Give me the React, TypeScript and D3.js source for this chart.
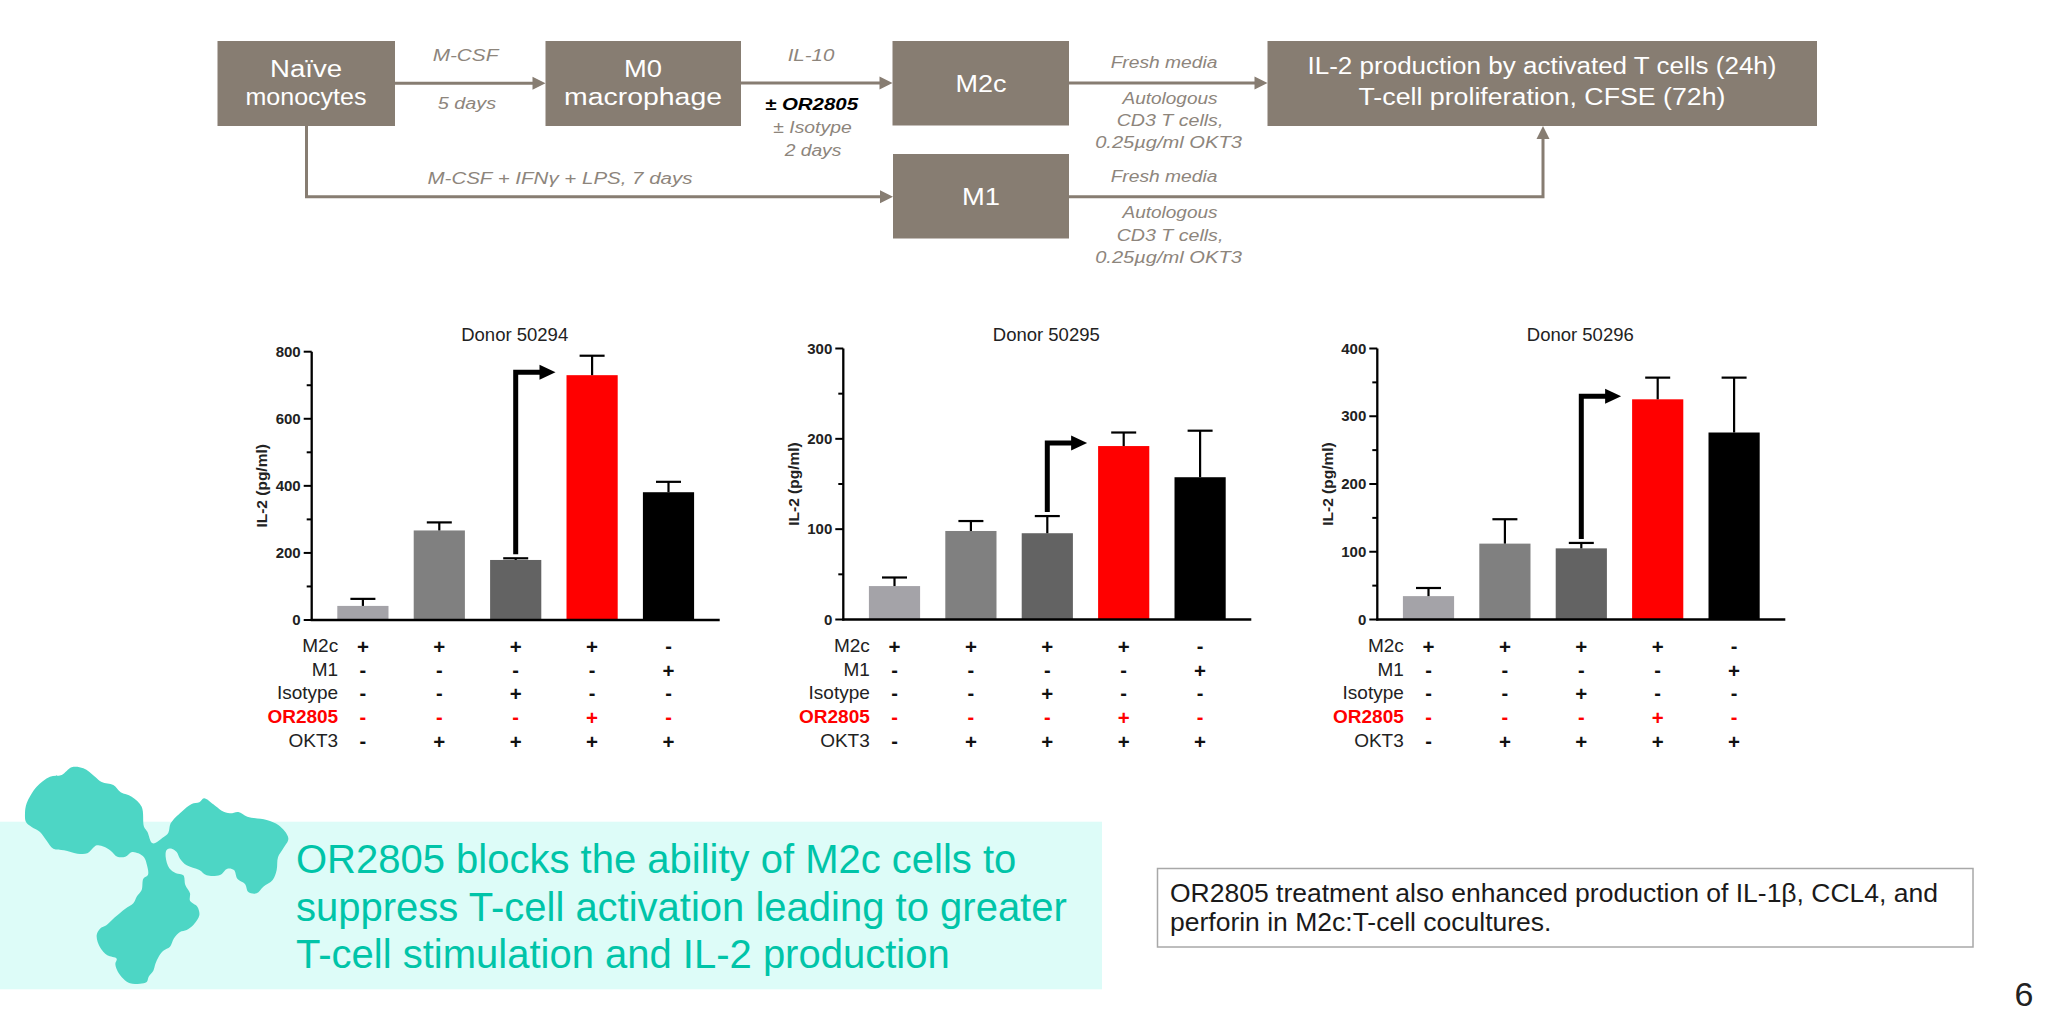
import React from 'react';
import * as d3 from 'd3';

// ---------------- DATA ----------------
const conditions = ['M2c', 'M2c + OKT3', 'M2c + Isotype + OKT3', 'M2c + OR2805 + OKT3', 'M1 + OKT3'];
const barColors = ['#a4a3a8', '#808080', '#636363', '#ff0000', '#000000'];

const donorNames = ['Donor 50294', 'Donor 50295', 'Donor 50296'];
const donor50294Mean = [42, 267, 179, 730, 381];
const donor50294Sem = [21, 24, 5, 58, 31];
const donor50295Mean = [37, 98, 95.5, 192, 157.5];
const donor50295Sem = [9.5, 11, 19, 15, 51.5];
const donor50296Mean = [34.5, 112, 105, 325, 276];
const donor50296Sem = [12, 36, 8, 32, 81];
const yMaxes = [800, 300, 400];
const yMajorSteps = [200, 100, 100];
const yAxisTitle = 'IL-2 (pg/ml)';

const rowLabels = ['M2c', 'M1', 'Isotype', 'OR2805', 'OKT3'];
const rowSigns = [
  ['+', '+', '+', '+', '-'],
  ['-', '-', '-', '-', '+'],
  ['-', '-', '+', '-', '-'],
  ['-', '-', '-', '+', '-'],
  ['-', '+', '+', '+', '+'],
];

const headline = [
  'OR2805 blocks the ability of M2c cells to',
  'suppress T-cell activation leading to greater',
  'T-cell stimulation and IL-2 production',
];
const noteLines = [
  'OR2805 treatment also enhanced production of IL-1β, CCL4, and',
  'perforin in M2c:T-cell cocultures.',
];
const pageNumber = '6';

// ---------------- STYLE ----------------
const FF = "'Liberation Sans', Arial, Helvetica, sans-serif";
const BOX = '#877d72';
const LABEL = '#8d857c';
const RED = '#ff0000';

type ChartProps = {
  axisX: number; y0: number; yTop: number; title: string;
  means: number[]; sems: number[]; yMax: number; step: number;
};

function BarChart({ axisX, y0, yTop, title, means, sems, yMax, step }: ChartProps) {
  const x = d3.scaleBand<string>().domain(conditions)
    .range([axisX + 13, axisX + 13 + 382]).paddingInner(0.33).paddingOuter(0.165);
  const y = d3.scaleLinear().domain([0, yMax]).range([y0, yTop]);
  const majors = d3.range(0, yMax + 1, step);
  const minors = d3.range(step / 2, yMax, step);
  const bw = x.bandwidth();
  const cx = (i: number) => (x(conditions[i]) as number) + bw / 2;

  // arrow from isotype bar to OR2805 bar
  const ax = cx(2);
  const ayStart = y(means[2] + sems[2]) - 4;
  const ayEnd = y(means[3]) - 3;
  const tipX = (x(conditions[3]) as number) - 11;
  const headLen = 16;

  const rowBase = (r: number) => 652 + r * 23.7;

  return (
    <g>
      <text x={axisX + 203} y={340.5} textAnchor="middle" fontFamily={FF} fontSize={18.5} fill="#222">{title}</text>
      {means.map((m, i) => (
        <rect key={'b' + i} x={x(conditions[i])} y={y(m)} width={bw} height={y0 - y(m)} fill={barColors[i]} />
      ))}
      {means.map((m, i) => (
        <g key={'e' + i} stroke="#000" strokeWidth={2.2}>
          <line x1={cx(i)} x2={cx(i)} y1={y(m)} y2={y(m + sems[i])} />
          <line x1={cx(i) - 12.5} x2={cx(i) + 12.5} y1={y(m + sems[i])} y2={y(m + sems[i])} />
        </g>
      ))}
      <line x1={axisX} x2={axisX} y1={y0 + 1} y2={yTop} stroke="#000" strokeWidth={2.3} />
      <line x1={axisX - 1} x2={axisX + 408} y1={y0} y2={y0} stroke="#000" strokeWidth={2.3} />
      {majors.map((t) => (
        <g key={'t' + t}>
          <line x1={axisX - 8} x2={axisX} y1={y(t)} y2={y(t)} stroke="#000" strokeWidth={2} />
          <text x={axisX - 11} y={y(t) + 5} textAnchor="end" fontFamily={FF} fontWeight="bold" fontSize={15} fill="#222">{t}</text>
        </g>
      ))}
      {minors.map((t) => (
        <line key={'m' + t} x1={axisX - 5} x2={axisX} y1={y(t)} y2={y(t)} stroke="#000" strokeWidth={2} />
      ))}
      <text transform={`translate(${axisX - 50},${(y0 + yTop) / 2}) rotate(-90)`} textAnchor="middle"
        dominantBaseline="central" fontFamily={FF} fontWeight="bold" fontSize={15.5} fill="#222">{yAxisTitle}</text>
      <path d={`M${ax},${ayStart}V${ayEnd}H${tipX - headLen + 1}`} fill="none" stroke="#000" strokeWidth={5} strokeLinejoin="miter" />
      <path d={`M${tipX},${ayEnd}L${tipX - headLen},${ayEnd - 7.5}L${tipX - headLen},${ayEnd + 7.5}Z`} fill="#000" />
      {rowLabels.map((lab, r) => (
        <g key={'r' + r}>
          <text x={axisX + 26.5} y={rowBase(r)} textAnchor="end" fontFamily={FF} fontSize={19}
            fontWeight={lab === 'OR2805' ? 'bold' : 'normal'} fill={lab === 'OR2805' ? RED : '#222'}>{lab}</text>
          {rowSigns[r].map((s, i) => (
            <text key={i} x={cx(i)} y={rowBase(r) - 5.5 + (s === '+' ? 7.3 : 6.3)} textAnchor="middle" fontFamily={FF}
              fontWeight="bold" fontSize={s === '+' ? 20.5 : 20} fill={lab === 'OR2805' ? RED : '#111'}>{s}</text>
          ))}
        </g>
      ))}
    </g>
  );
}

function ST({ x, y, w, children, size = 16, fill = LABEL, weight = 'normal', italic = true }: any) {
  return (
    <text x={x} y={y} textAnchor="middle" fontFamily={FF} fontSize={size} fill={fill} fontWeight={weight}
      fontStyle={italic ? 'italic' : 'normal'} textLength={w} lengthAdjust="spacingAndGlyphs">{children}</text>
  );
}

function Diagram() {
  const arrowHead = (x: number, y: number, dir: 'r' | 'u') =>
    dir === 'r'
      ? `M${x},${y}L${x - 13},${y - 6.5}L${x - 13},${y + 6.5}Z`
      : `M${x},${y}L${x - 6.5},${y + 13}L${x + 6.5},${y + 13}Z`;
  const boxes = [
    { x0: 217.5, x1: 395, y0: 41, y1: 126 },
    { x0: 545.5, x1: 741, y0: 41, y1: 126 },
    { x0: 892.5, x1: 1069, y0: 41, y1: 125.5 },
    { x0: 893, x1: 1069, y0: 154, y1: 238.5 },
    { x0: 1267.5, x1: 1817, y0: 41, y1: 126 },
  ];
  return (
    <g>
      {boxes.map((b, i) => (
        <rect key={i} x={b.x0} y={b.y0} width={b.x1 - b.x0} height={b.y1 - b.y0} fill={BOX} />
      ))}
      <g stroke={BOX} strokeWidth={3} fill="none">
        <line x1={395} x2={534} y1={83.3} y2={83.3} />
        <line x1={741} x2={881} y1={83} y2={83} />
        <line x1={1069} x2={1256} y1={83} y2={83} />
        <path d="M306.5,126V196.7H882" />
        <path d="M1069,196.7H1543V138" />
      </g>
      <g fill={BOX}>
        <path d={arrowHead(545.5, 83.3, 'r')} />
        <path d={arrowHead(892.5, 83, 'r')} />
        <path d={arrowHead(1267.5, 83, 'r')} />
        <path d={arrowHead(893, 196.7, 'r')} />
        <path d={arrowHead(1543, 126, 'u')} />
      </g>
      <ST x={306} y={77} w={72} size={23} fill="#fff" italic={false}>Naïve</ST>
      <ST x={306} y={105} w={121} size={23} fill="#fff" italic={false}>monocytes</ST>
      <ST x={643} y={77} w={38} size={23} fill="#fff" italic={false}>M0</ST>
      <ST x={643} y={105} w={158} size={23} fill="#fff" italic={false}>macrophage</ST>
      <ST x={981} y={91.5} w={51} size={23} fill="#fff" italic={false}>M2c</ST>
      <ST x={981} y={204.5} w={38} size={23} fill="#fff" italic={false}>M1</ST>
      <ST x={1542} y={74} w={469} size={23} fill="#fff" italic={false}>IL-2 production by activated T cells (24h)</ST>
      <ST x={1542} y={105} w={367} size={23} fill="#fff" italic={false}>T-cell proliferation, CFSE (72h)</ST>
      <ST x={465.5} y={61} w={65.7}>M-CSF</ST>
      <ST x={467} y={109} w={58.3}>5 days</ST>
      <ST x={811} y={61} w={46.7}>IL-10</ST>
      <ST x={811.5} y={110} w={93} fill="#000" weight="bold">± OR2805</ST>
      <ST x={812.5} y={133} w={78.3}>± Isotype</ST>
      <ST x={813} y={156} w={56.7}>2 days</ST>
      <ST x={560} y={184} w={265}>M-CSF + IFNγ + LPS, 7 days</ST>
      <ST x={1164} y={68} w={106.7}>Fresh media</ST>
      <ST x={1170} y={104} w={95}>Autologous</ST>
      <ST x={1170} y={126} w={106.7}>CD3 T cells,</ST>
      <ST x={1168.5} y={148} w={146.7}>0.25µg/ml OKT3</ST>
      <ST x={1164} y={182} w={106.7}>Fresh media</ST>
      <ST x={1170} y={218} w={95}>Autologous</ST>
      <ST x={1170} y={240.5} w={106.7}>CD3 T cells,</ST>
      <ST x={1168.5} y={263} w={146.7}>0.25µg/ml OKT3</ST>
    </g>
  );
}

// decorative antibody outline (logo points in 3x crop space, converted below)
const antibodyOutline: [number, number][] = [
  [80, 130], [110, 80], [150, 50], [185, 45], [215, 22], [250, 25], [285, 50], [305, 66], [340, 75], [362, 97],
  [395, 110], [425, 140], [432, 200], [442, 215], [458, 250], [490, 232], [505, 218], [512, 190], [545, 155],
  [575, 132], [598, 127], [612, 115], [640, 133], [665, 152], [690, 160], [715, 156], [742, 170], [800, 180],
  [836, 196], [865, 235], [850, 265], [834, 292], [830, 330], [818, 360], [790, 380], [770, 400], [745, 396],
  [735, 372], [712, 356], [702, 330], [682, 326], [660, 345], [620, 346], [598, 330], [560, 316], [540, 296],
  [530, 276], [515, 266], [500, 270], [497, 290], [508, 325], [528, 340], [550, 346], [556, 375], [570, 400],
  [570, 422], [592, 440], [598, 466], [580, 495], [560, 510], [540, 516], [522, 535], [510, 560], [490, 572],
  [476, 590], [466, 612], [460, 632], [446, 650], [440, 666], [420, 671], [390, 670], [370, 656], [354, 636],
  [346, 612], [350, 596], [322, 586], [300, 562], [290, 526], [300, 506], [320, 495], [336, 480], [352, 466],
  [376, 446], [400, 430], [410, 410], [425, 390], [430, 356], [444, 344], [440, 312], [432, 292], [415, 280],
  [396, 276], [376, 290], [352, 290], [332, 272], [312, 260], [290, 256], [262, 280], [232, 281], [192, 271],
  [160, 266], [140, 242], [120, 216], [95, 201], [78, 186], [75, 160],
];

function Bottom() {
  const pts = antibodyOutline.map(([px, py]) => [px / 3, 760 + py / 3] as [number, number]);
  const d = d3.line().curve(d3.curveCatmullRomClosed.alpha(0.5))(pts) || '';
  return (
    <g>
      <rect x={0} y={821.7} width={1102} height={167.6} fill="#ddfcf8" />
      <path d={d} fill="#4dd6c5" />
      {headline.map((l, i) => (
        <text key={i} x={296} y={873 + i * 47.5} fontFamily={FF} fontSize={40} fill="#00c4a8">{l}</text>
      ))}
      <rect x={1157.5} y={868.5} width={815.5} height={78.5} fill="#fff" stroke="#a8a8a8" strokeWidth={1.5} />
      {noteLines.map((l, i) => (
        <text key={i} x={1170} y={902 + i * 28.5} fontFamily={FF} fontSize={26.5} fill="#1a1a1a">{l}</text>
      ))}
      <text x={2024} y={1006} textAnchor="middle" fontFamily={FF} fontSize={34} fill="#222">{pageNumber}</text>
    </g>
  );
}

export default function App() {
  const means = [donor50294Mean, donor50295Mean, donor50296Mean];
  const sems = [donor50294Sem, donor50295Sem, donor50296Sem];
  const axisXs = [311.7, 843.3, 1377.3];
  const y0s = [620, 619.5, 619.5];
  const yTops = [351.7, 348.5, 348.5];
  return (
    <svg width={2049} height={1014} viewBox="0 0 2049 1014"
      style={{ position: 'absolute', left: 0, top: 0, background: '#fff' }}>
      <rect x={0} y={0} width={2049} height={1014} fill="#fff" />
      <Diagram />
      {donorNames.map((name, k) => (
        <BarChart key={name} axisX={axisXs[k]} y0={y0s[k]} yTop={yTops[k]} title={name}
          means={means[k]} sems={sems[k]} yMax={yMaxes[k]} step={yMajorSteps[k]} />
      ))}
      <Bottom />
    </svg>
  );
}
